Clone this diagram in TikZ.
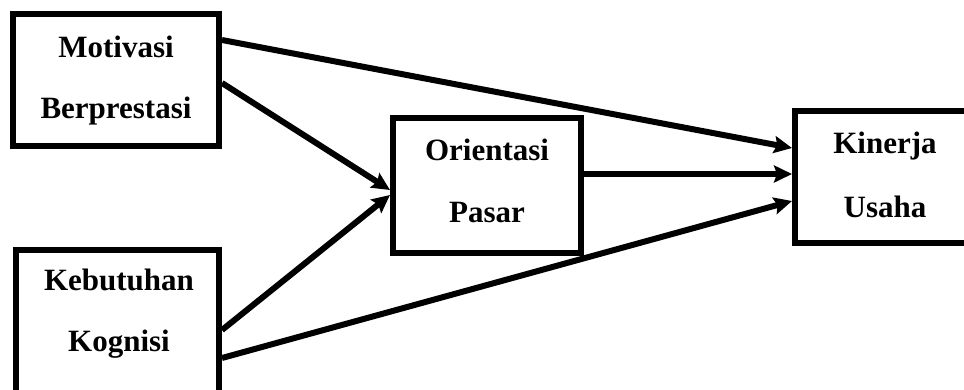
\documentclass[tikz,border=0pt]{standalone}
\usepackage{fontspec}
\setmainfont{Liberation Serif}
\usetikzlibrary{arrows.meta}
\begin{document}
\begin{tikzpicture}[x=1pt,y=-1pt,
  box/.style={draw=black,line width=6pt,rectangle,inner sep=0pt,fill=none},
  lbl/.style={anchor=base,inner sep=0pt,font=\fontsize{31}{31}\selectfont\bfseries},
  conn/.style={line width=6pt,-{Stealth[length=18pt,width=17pt,inset=3pt]}}]
\useasboundingbox (0,0) rectangle (964,389);
\node[box,minimum width=206pt,minimum height=131.5pt] (M) at (116,79.75) {};
\node[box,minimum width=203pt,minimum height=145pt] (B) at (117.5,322) {};
\node[box,minimum width=188pt,minimum height=135pt] (O) at (487,185.5) {};
\node[box,minimum width=180pt,minimum height=132pt] (K) at (885,177) {};
\node[lbl] (m1) at (116,57) {Motivasi};
\node[lbl] (m2) at (116,118) {Berprestasi};
\node[lbl] (b1) at (119,290) {Kebutuhan};
\node[lbl] (b2) at (119,351.5) {Kognisi};
\node[lbl] (o1) at (487,160) {Orientasi};
\node[lbl] (o2) at (487,222.5) {Pasar};
\node[lbl] (k1) at (885,153) {Kinerja};
\node[lbl] (k2) at (885,217.5) {Usaha};
\draw[conn] ([yshift=39.75pt]M.east) -- ([yshift=29pt]K.west);
\draw[conn] ([yshift=-3.25pt]M.east) -- ([yshift=-4.5pt]O.west);
\draw[conn] ([yshift=-8pt]B.east) -- ([yshift=-9.5pt]O.west);
\draw[conn] ([yshift=11.5pt]O.east) -- ([yshift=3pt]K.west);
\draw[conn] ([yshift=-36pt]B.east) -- ([yshift=-24pt]K.west);
\end{tikzpicture}
\end{document}
